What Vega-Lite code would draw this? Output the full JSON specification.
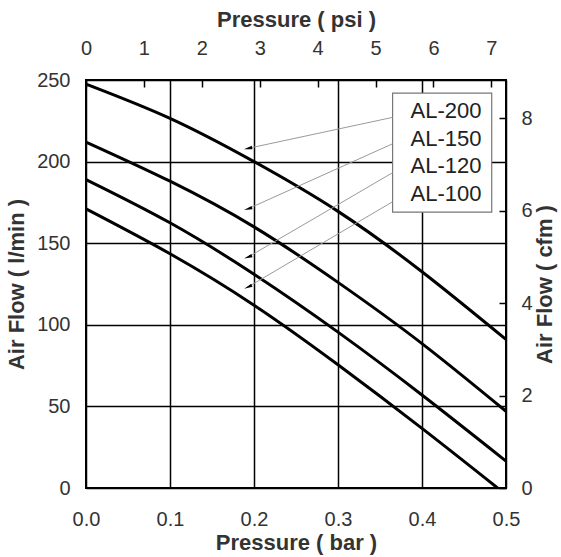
{
  "$schema": "https://vega.github.io/schema/vega-lite/v6.json",
  "autosize": {"type": "none"},
  "padding": {"left": 86, "top": 80, "right": 55, "bottom": 69},
  "width": 420,
  "height": 408,
  "background": "white",
  "config": {
    "view": {"stroke": "black", "strokeWidth": 2},
    "font": "Liberation Sans",
    "axis": {
      "labelFont": "Liberation Sans",
      "titleFont": "Liberation Sans",
      "labelColor": "#333",
      "titleColor": "#333",
      "labelFontSize": 20,
      "titleFontSize": 22,
      "titleFontWeight": "bold",
      "labelFlush": false,
      "labelOverlap": false,
      "domain": false
    }
  },
  "datasets": {
    "curves": [
      {"series": "AL-200", "bar": 0, "flow": 247.5},
      {"series": "AL-200", "bar": 0.1, "flow": 226.5},
      {"series": "AL-200", "bar": 0.2, "flow": 200},
      {"series": "AL-200", "bar": 0.3, "flow": 169.5},
      {"series": "AL-200", "bar": 0.4, "flow": 132.5},
      {"series": "AL-200", "bar": 0.5, "flow": 91},
      {"series": "AL-150", "bar": 0, "flow": 212},
      {"series": "AL-150", "bar": 0.1, "flow": 188},
      {"series": "AL-150", "bar": 0.2, "flow": 160},
      {"series": "AL-150", "bar": 0.3, "flow": 126},
      {"series": "AL-150", "bar": 0.4, "flow": 88.5},
      {"series": "AL-150", "bar": 0.5, "flow": 47},
      {"series": "AL-120", "bar": 0, "flow": 189},
      {"series": "AL-120", "bar": 0.1, "flow": 162.5},
      {"series": "AL-120", "bar": 0.2, "flow": 131},
      {"series": "AL-120", "bar": 0.3, "flow": 95.5},
      {"series": "AL-120", "bar": 0.4, "flow": 57},
      {"series": "AL-120", "bar": 0.5, "flow": 16.5},
      {"series": "AL-100", "bar": 0, "flow": 171},
      {"series": "AL-100", "bar": 0.1, "flow": 143.5},
      {"series": "AL-100", "bar": 0.2, "flow": 112},
      {"series": "AL-100", "bar": 0.3, "flow": 75.5},
      {"series": "AL-100", "bar": 0.4, "flow": 36.5},
      {"series": "AL-100", "bar": 0.49, "flow": 0}
    ],
    "labels": [
      {"series": "AL-200", "arrowBar": 0.1929, "arrowFlow": 208.1, "boxBar": 0.365, "boxFlow": 227.1, "textBar": 0.4286, "textFlow": 231},
      {"series": "AL-150", "arrowBar": 0.1929, "arrowFlow": 171.1, "boxBar": 0.365, "boxFlow": 210.9, "textBar": 0.4286, "textFlow": 214},
      {"series": "AL-120", "arrowBar": 0.1929, "arrowFlow": 141.5, "boxBar": 0.365, "boxFlow": 193.2, "textBar": 0.4286, "textFlow": 197},
      {"series": "AL-100", "arrowBar": 0.1929, "arrowFlow": 123.2, "boxBar": 0.365, "boxFlow": 175.4, "textBar": 0.4286, "textFlow": 180}
    ],
    "box": [
      {"x0": 0.365, "x1": 0.483, "y0": 169, "y1": 242}
    ],
    "secondary": [
      {"psi": 0, "cfm": 0},
      {"psi": 7.2519, "cfm": 8.8287}
    ]
  },
  "layer": [
    {
      "encoding": {
        "x": {"type": "quantitative", "scale": {"domain": [0, 0.5], "nice": false, "zero": false}},
        "y": {"type": "quantitative", "scale": {"domain": [0, 250], "nice": false}}
      },
      "layer": [
        {
          "data": {"name": "curves"},
          "mark": {"type": "line", "color": "black", "strokeWidth": 3, "interpolate": "natural"},
          "encoding": {
            "x": {
              "field": "bar", "type": "quantitative",
              "axis": {
                "orient": "bottom", "values": [0, 0.1, 0.2, 0.3, 0.4, 0.5], "format": ".1f",
                "grid": true, "gridColor": "black", "gridWidth": 1.5, "gridOpacity": 1,
                "ticks": false, "tickSize": 0, "labelPadding": 21,
                "title": "Pressure ( bar )", "titlePadding": 3
              }
            },
            "y": {
              "field": "flow", "type": "quantitative",
              "axis": {
                "orient": "left", "values": [0, 50, 100, 150, 200, 250],
                "grid": true, "gridColor": "black", "gridWidth": 1.5, "gridOpacity": 1,
                "ticks": false, "tickSize": 0, "labelPadding": 16,
                "title": "Air Flow ( l/min )", "titlePadding": 8
              }
            },
            "detail": {"field": "series", "type": "nominal"}
          }
        },
        {
          "data": {"name": "box"},
          "mark": {"type": "rect", "fill": "white", "stroke": "#777", "strokeWidth": 1.2},
          "encoding": {
            "x": {"field": "x0", "type": "quantitative"},
            "x2": {"field": "x1"},
            "y": {"field": "y0", "type": "quantitative"},
            "y2": {"field": "y1"}
          }
        },
        {
          "data": {"name": "labels"},
          "mark": {"type": "rule", "color": "#9a9a9a", "strokeWidth": 1},
          "encoding": {
            "x": {"field": "arrowBar", "type": "quantitative"},
            "y": {"field": "arrowFlow", "type": "quantitative"},
            "x2": {"field": "boxBar"},
            "y2": {"field": "boxFlow"}
          }
        },
        {
          "data": {"name": "labels"},
          "mark": {"type": "point", "shape": "M0,-1L0.4,1L-0.4,1Z", "filled": true, "color": "black", "size": 70, "opacity": 1},
          "encoding": {
            "x": {"field": "arrowBar", "type": "quantitative"},
            "y": {"field": "arrowFlow", "type": "quantitative"},
            "angle": {
              "field": "series", "type": "nominal",
              "scale": {"domain": ["AL-200", "AL-150", "AL-120", "AL-100"], "range": [258, 246, 240, 239]},
              "legend": null
            }
          }
        },
        {
          "data": {"name": "labels"},
          "mark": {"type": "text", "font": "Liberation Sans", "fontSize": 22, "color": "#222", "align": "center", "baseline": "middle"},
          "encoding": {
            "x": {"field": "textBar", "type": "quantitative"},
            "y": {"field": "textFlow", "type": "quantitative"},
            "text": {"field": "series", "type": "nominal"}
          }
        }
      ]
    },
    {
      "data": {"name": "secondary"},
      "mark": {"type": "point", "opacity": 0},
      "encoding": {
        "x": {
          "field": "psi", "type": "quantitative",
          "scale": {"domain": [0, 7.2519], "nice": false, "zero": false},
          "axis": {
            "orient": "top", "values": [0, 1, 2, 3, 4, 5, 6, 7], "grid": false,
            "ticks": true, "tickSize": -7, "tickColor": "black", "tickWidth": 1.5,
            "labelPadding": 29, "title": "Pressure ( psi )", "titlePadding": 7
          }
        },
        "y": {
          "field": "cfm", "type": "quantitative",
          "scale": {"domain": [0, 8.8287], "nice": false},
          "axis": {
            "orient": "right", "values": [0, 2, 4, 6, 8], "grid": false,
            "ticks": true, "tickSize": -7, "tickColor": "black", "tickWidth": 1.5,
            "labelPadding": 22, "title": "Air Flow ( cfm )", "titleAngle": 270, "titlePadding": 24
          }
        }
      }
    }
  ],
  "resolve": {"scale": {"x": "independent", "y": "independent"}, "axis": {"x": "independent", "y": "independent"}}
}
